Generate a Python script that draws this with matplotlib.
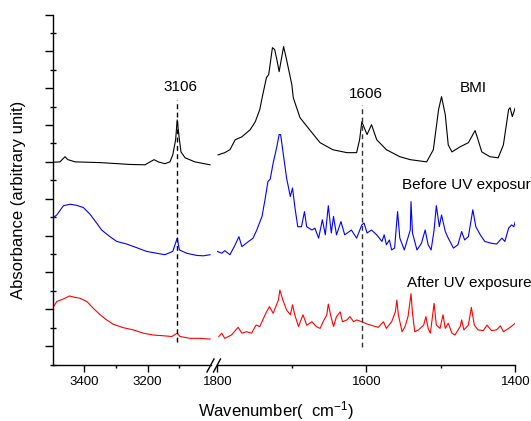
import matplotlib
matplotlib.use('Agg')
import matplotlib.pyplot as plt
from matplotlib.lines import Line2D
from matplotlib.ticker import FixedLocator

plt.rcParams['font.family'] = ['Liberation Sans', 'DejaVu Sans']
plt.rcParams['mathtext.fontset'] = 'custom'
plt.rcParams['mathtext.rm'] = 'Liberation Sans'
plt.rcParams['mathtext.default'] = 'regular'

# ---------------- data (wavenumber, absorbance arb. unit) ----------------
black_left_wn = [3500, 3477, 3461, 3452, 3429, 3350, 3255, 3208, 3192, 3179, 3166, 3145,
                 3129, 3120, 3111, 3106, 3099, 3094, 3081, 3050, 3002]
black_left_ab = [5.49, 5.50, 5.64, 5.56, 5.50, 5.48, 5.43, 5.42, 5.50, 5.56, 5.50, 5.45,
                 5.50, 5.69, 6.10, 6.64, 6.10, 5.77, 5.61, 5.50, 5.42]

black_right_wn = [1799, 1790, 1783, 1776, 1767, 1756, 1749, 1743, 1739, 1734, 1731, 1726,
                  1723, 1720, 1717, 1711, 1707, 1700, 1698, 1689, 1676, 1662, 1645, 1626,
                  1613, 1609, 1606, 1599, 1593, 1586, 1573, 1555, 1541, 1519, 1510, 1503,
                  1499, 1494, 1490, 1485, 1474, 1463, 1454, 1450, 1445, 1434, 1423, 1416,
                  1409, 1407, 1404, 1400]
black_right_ab = [5.69, 5.75, 5.83, 6.10, 6.18, 6.37, 6.59, 6.92, 7.32, 7.79, 7.87, 8.60,
                  8.55, 8.27, 7.95, 8.63, 8.27, 7.60, 7.24, 6.70, 6.37, 6.02, 5.83, 5.75,
                  5.75, 6.10, 6.59, 6.24, 6.51, 6.10, 5.83, 5.64, 5.56, 5.50, 5.83, 6.92,
                  7.27, 6.78, 5.96, 5.77, 5.91, 6.02, 6.35, 6.10, 5.77, 5.64, 5.61, 5.96,
                  6.92, 6.97, 6.73, 6.97]

blue_left_wn = [3500, 3487, 3466, 3445, 3424, 3403, 3382, 3361, 3345, 3319, 3297, 3266,
                3234, 3203, 3171, 3145, 3120, 3106, 3099, 3076, 3044, 3023, 3002]
blue_left_ab = [3.97, 4.06, 4.31, 4.35, 4.32, 4.26, 4.08, 3.84, 3.65, 3.47, 3.34, 3.27,
                3.17, 3.07, 3.02, 2.98, 3.07, 3.43, 3.11, 3.02, 2.96, 2.95, 2.98]

blue_right_wn = [1800, 1794, 1790, 1783, 1776, 1771, 1767, 1758, 1752, 1747, 1740, 1736,
                 1732, 1729, 1725, 1720, 1717, 1715, 1711, 1707, 1702, 1699, 1696, 1692,
                 1687, 1683, 1680, 1673, 1669, 1664, 1659, 1655, 1651, 1647, 1644, 1640,
                 1634, 1629, 1620, 1613, 1606, 1603, 1599, 1593, 1586, 1579, 1576, 1573,
                 1569, 1566, 1562, 1558, 1555, 1549, 1545, 1541, 1540, 1538, 1532, 1526,
                 1521, 1517, 1513, 1509, 1506, 1502, 1499, 1494, 1490, 1483, 1477, 1472,
                 1468, 1463, 1457, 1453, 1447, 1441, 1432, 1425, 1418, 1414, 1409, 1405,
                 1402, 1400]
blue_right_ab = [3.07, 3.02, 3.09, 2.98, 3.25, 3.47, 3.20, 3.34, 3.43, 3.65, 4.02, 4.47,
                 4.97, 5.03, 5.47, 5.92, 6.24, 6.24, 5.65, 5.06, 4.56, 4.79, 4.29, 3.74,
                 3.74, 4.15, 3.74, 3.65, 3.70, 3.43, 3.93, 3.52, 4.31, 3.57, 4.02, 3.52,
                 3.88, 3.52, 3.65, 3.43, 3.79, 3.84, 3.57, 3.65, 3.52, 3.34, 3.52, 3.25,
                 3.38, 3.11, 3.16, 4.15, 3.43, 3.11, 3.38, 3.65, 4.42, 3.57, 3.11, 3.29,
                 3.65, 3.25, 3.11, 3.65, 4.31, 3.74, 4.06, 3.61, 3.43, 3.16, 3.25, 3.61,
                 3.38, 3.47, 4.20, 3.74, 3.52, 3.34, 3.29, 3.27, 3.43, 3.34, 3.70, 3.79,
                 3.74, 3.88]

red_left_wn = [3500, 3487, 3466, 3447, 3429, 3414, 3392, 3372, 3350, 3329, 3308, 3277,
               3245, 3213, 3182, 3150, 3123, 3106, 3097, 3066, 3034, 3002]
red_left_ab = [1.53, 1.71, 1.78, 1.86, 1.82, 1.80, 1.71, 1.53, 1.35, 1.21, 1.09, 1.00,
               0.94, 0.85, 0.80, 0.78, 0.76, 0.85, 0.76, 0.71, 0.71, 0.69]

red_right_wn = [1798, 1794, 1790, 1781, 1772, 1767, 1761, 1754, 1748, 1743, 1734, 1730,
                1725, 1718, 1716, 1712, 1707, 1702, 1699, 1696, 1691, 1685, 1680, 1673,
                1667, 1662, 1658, 1653, 1651, 1648, 1644, 1640, 1635, 1632, 1626, 1622,
                1617, 1613, 1606, 1599, 1591, 1584, 1577, 1573, 1566, 1561, 1559, 1557,
                1552, 1548, 1544, 1540, 1538, 1535, 1530, 1523, 1520, 1517, 1514, 1509,
                1506, 1501, 1497, 1494, 1490, 1485, 1481, 1474, 1472, 1469, 1463, 1459,
                1455, 1450, 1443, 1438, 1432, 1425, 1420, 1416, 1409, 1403, 1400]
red_right_ab = [0.76, 0.85, 0.71, 0.80, 1.01, 0.85, 0.89, 0.85, 1.07, 1.03, 1.43, 1.57,
                1.39, 1.75, 2.02, 1.75, 1.48, 1.35, 1.62, 1.35, 1.03, 1.35, 1.07, 1.16,
                1.03, 0.98, 1.16, 1.35, 1.64, 1.35, 1.03, 1.30, 1.43, 1.16, 1.21, 1.30,
                1.16, 1.21, 1.16, 1.10, 1.05, 1.01, 1.16, 0.98, 1.16, 1.43, 1.75, 1.35,
                0.89, 1.03, 1.30, 1.92, 1.39, 0.89, 0.94, 1.07, 1.30, 0.98, 0.85, 1.66,
                1.07, 0.98, 1.35, 0.98, 1.12, 0.85, 0.80, 1.03, 1.21, 0.94, 1.07, 1.55,
                1.07, 0.94, 0.92, 1.07, 0.92, 0.94, 1.05, 0.89, 0.98, 1.07, 1.12]

left_major_ticks = [3400, 3200]
left_minor_ticks = [3300, 3100]
right_major_ticks = [1800, 1600, 1400]
right_minor_ticks = [1700, 1500]
marker_peaks = [3106, 1606]
peak_labels = ["3106", "1606"]
curve_labels = ["BMI", "Before UV exposure", "After UV exposure"]

# ---------------- figure ----------------
W, H = 531, 421
fig = plt.figure(figsize=(W / 100, H / 100), dpi=100)
b = (H - 364.5) / H
t = (H - 14.5) / H
ax1 = fig.add_axes([52.7 / W, b, (210.7 - 52.7) / W, t - b])
ax2 = fig.add_axes([217.3 / W, b, (515.3 - 217.3) / W, t - b])

lw = 0.8
ax1.plot(black_left_wn, black_left_ab, color='black', lw=lw)
ax1.plot(blue_left_wn, blue_left_ab, color='#0000FF', lw=lw)
ax1.plot(red_left_wn, red_left_ab, color='#FF0000', lw=lw)
ax2.plot(black_right_wn, black_right_ab, color='black', lw=lw)
ax2.plot(blue_right_wn, blue_right_ab, color='#0000FF', lw=lw)
ax2.plot(red_right_wn, red_right_ab, color='#FF0000', lw=lw)

for ax in (ax1, ax2):
    ax.set_ylim(0, 9.5)
    ax.spines['top'].set_visible(False)
    ax.spines['right'].set_visible(False)
    ax.spines['bottom'].set_linewidth(1.0)
    ax.tick_params(axis='x', which='major', direction='out', length=5, width=1.0,
                   labelsize=9.5, pad=3.5)
    ax.tick_params(axis='x', which='minor', direction='out', length=2.5, width=1.0)

ax1.set_xlim(3500, 3000)
ax2.set_xlim(1800, 1400)
ax1.xaxis.set_major_locator(FixedLocator(left_major_ticks))
ax1.xaxis.set_minor_locator(FixedLocator(left_minor_ticks))
ax2.xaxis.set_major_locator(FixedLocator(right_major_ticks))
ax2.xaxis.set_minor_locator(FixedLocator(right_minor_ticks))

ax1.spines['left'].set_linewidth(1.0)
ax1.yaxis.set_major_locator(FixedLocator([0.5 + i for i in range(10)]))
ax1.yaxis.set_minor_locator(FixedLocator([float(i) for i in range(10)]))
ax1.tick_params(axis='y', which='major', direction='out', length=5.5, width=1.0, labelleft=False)
ax1.tick_params(axis='y', which='minor', direction='inout', length=4.5, width=1.0)
ax2.spines['left'].set_visible(False)
ax2.tick_params(axis='y', which='both', left=False, labelleft=False)

# dashed markers
ax1.plot([marker_peaks[0]] * 2, [0.61, 7.19], color='black', lw=1.0, ls=(0, (3.5, 2.5)))
ax2.plot([marker_peaks[1]] * 2, [0.48, 7.05], color='#333333', lw=1.0, ls=(0, (3.5, 2.5)))

ax1.text(3097, 7.54, peak_labels[0], fontsize=11, ha='center', va='center')
ax2.text(1600, 7.35, peak_labels[1], fontsize=11, ha='center', va='center')
ax2.text(1457, 7.51, curve_labels[0], fontsize=11, ha='center', va='center')
ax2.text(1552.5, 4.88, curve_labels[1], fontsize=11, ha='left', va='center')
ax2.text(1546, 2.21, curve_labels[2], fontsize=11, ha='left', va='center')

# axis break marks
for (x0, y0, x1, y1) in [(207, 372, 214, 359), (213.5, 372, 220.5, 359)]:
    fig.add_artist(Line2D([x0 / W, x1 / W], [1 - y0 / H, 1 - y1 / H],
                          color='black', lw=1.0, transform=fig.transFigure))

fig.text(276.5 / W, 1 - 416.7 / H, 'Wavenumber(  cm$^{-1}$)', fontsize=12,
         ha='center', va='baseline')
fig.text(18.5 / W, 1 - 200 / H, 'Absorbance (arbitrary unit)', fontsize=12,
         rotation=90, ha='center', va='center')

fig.savefig('out.png', dpi=100)
